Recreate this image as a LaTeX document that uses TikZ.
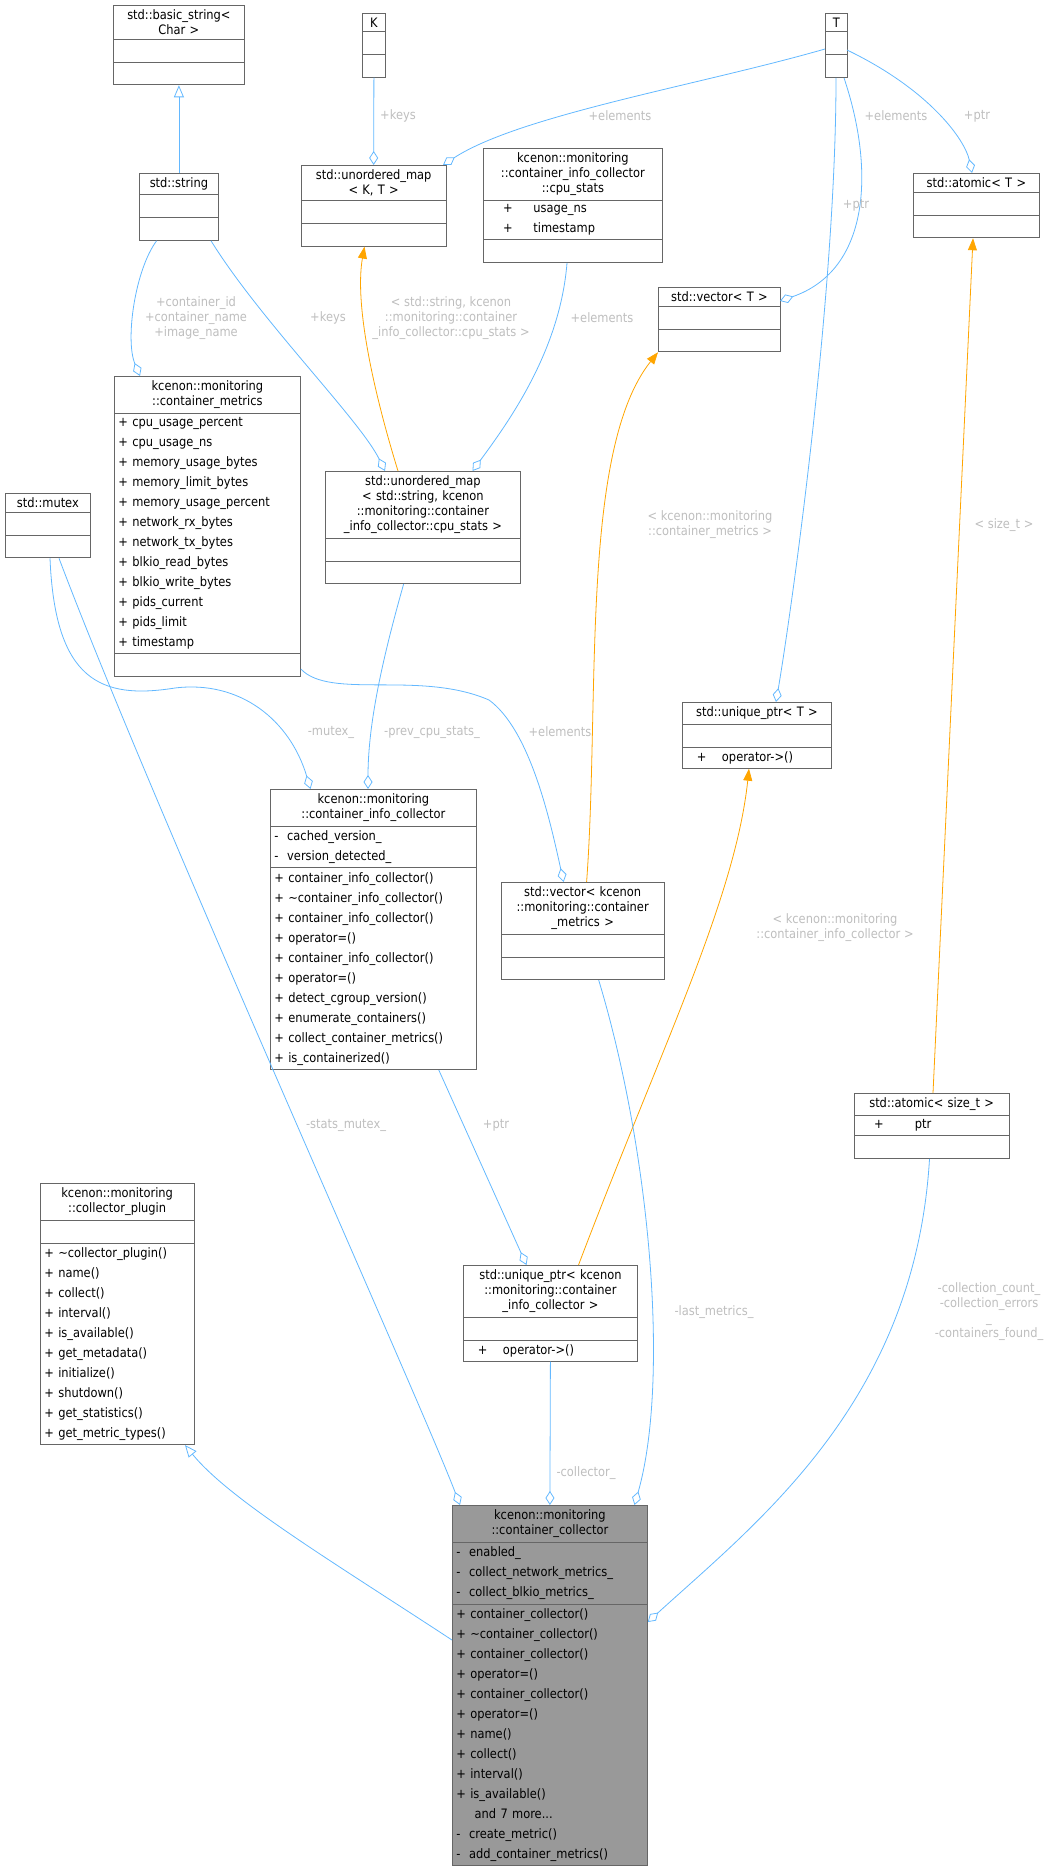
\documentclass[tikz,border=0pt]{standalone}
\usepackage{fontspec}
\setmainfont{DejaVu Sans}[FakeStretch=0.88]
\usepackage{tikz}
\usetikzlibrary{shapes.multipart,arrows.meta,calc,positioning}
\definecolor{edgeblue}{HTML}{63B8FF}
\definecolor{edgeorange}{HTML}{FFA500}
\definecolor{boxgray}{HTML}{666666}
\definecolor{mainfill}{HTML}{999999}
\definecolor{lblgray}{HTML}{BEBEBE}
\newcommand{\memfont}{\fontsize{6.5}{10}\selectfont}
\newcommand{\ttlfont}{\fontsize{6.5}{7.5}\selectfont}
\newcommand{\ttl}[1]{{\centering\ttlfont #1\par}}
\newcommand{\nomem}{\rule{0pt}{7pt}}
\tikzset{
  cls/.style={rectangle split, rectangle split parts=3, draw=boxgray, fill=white,
    anchor=north west, inner xsep=2pt, inner ysep=2pt, font=\memfont, align=left},
  mainc/.style={cls, fill=mainfill},
  dep/.style={draw=edgeblue, -{Diamond[open,length=7pt,width=4.5pt]}},
  isa/.style={draw=edgeblue, -{Triangle[open,length=6pt,width=5pt]}},
  tpl/.style={draw=edgeorange, -{Triangle[length=6pt,width=4.5pt]}},
  lbl/.style={text=lblgray, font=\ttlfont, align=center, inner sep=0pt}
}
\begin{document}
\begin{tikzpicture}[x=0.5pt,y=-0.5pt]
\useasboundingbox (0,0) rectangle (1053,1871);

% classes
\node[cls, text width=61.5pt] (bstr) at (113,5) {\ttl{std::basic\_string<\\Char >}\nodepart{two}\nomem\nodepart{three}\nomem};
\node[cls, text width=7.5pt] (K) at (362,13) {\ttl{K}\nodepart{two}\nomem\nodepart{three}\nomem};
\node[cls, text width=7pt] (T) at (825,13) {\ttl{T}\nodepart{two}\nomem\nodepart{three}\nomem};
\node[cls, text width=35.5pt] (str) at (139,173) {\ttl{std::string}\nodepart{two}\nomem\nodepart{three}\nomem};
\node[cls, text width=68.25pt] (umapKT) at (301,165) {\ttl{std::unordered\_map\\< K, T >}\nodepart{two}\nomem\nodepart{three}\nomem};
\node[cls, text width=85.5pt] (cpustats) at (483,148) {\ttl{kcenon::monitoring\\::container\_info\_collector\\::cpu\_stats}
  \nodepart{two}\hspace{1.2em}+\hspace{1.6em}usage\_ns\\\hspace{1.2em}+\hspace{1.6em}timestamp\nodepart{three}\nomem};
\node[cls, text width=59pt] (atomT) at (913,173) {\ttl{std::atomic< T >}\nodepart{two}\nomem\nodepart{three}\nomem};
\node[cls, text width=57pt] (vecT) at (658,287) {\ttl{std::vector< T >}\nodepart{two}\nomem\nodepart{three}\nomem};
\node[cls, text width=89pt] (cm) at (114,376) {\ttl{kcenon::monitoring\\::container\_metrics}
  \nodepart{two}+~cpu\_usage\_percent\\+~cpu\_usage\_ns\\+~memory\_usage\_bytes\\+~memory\_limit\_bytes\\+~memory\_usage\_percent\\+~network\_rx\_bytes\\+~network\_tx\_bytes\\+~blkio\_read\_bytes\\+~blkio\_write\_bytes\\+~pids\_current\\+~pids\_limit\\+~timestamp
  \nodepart{three}\nomem};
\node[cls, text width=38.5pt] (mutex) at (5,493) {\ttl{std::mutex}\nodepart{two}\nomem\nodepart{three}\nomem};
\node[cls, text width=93.5pt] (umap2) at (325,471) {\ttl{std::unordered\_map\\< std::string, kcenon\\::monitoring::container\\\_info\_collector::cpu\_stats >}\nodepart{two}\nomem\nodepart{three}\nomem};
\node[cls, text width=70.5pt] (uptrT) at (682,702) {\ttl{std::unique\_ptr< T >}\nodepart{two}\nomem\nodepart{three}\hspace{0.8em}+\hspace{1.2em}operator->()};
\node[cls, text width=99pt] (cic) at (270,789) {\ttl{kcenon::monitoring\\::container\_info\_collector}
  \nodepart{two}-~~cached\_version\_\\-~~version\_detected\_
  \nodepart{three}+~container\_info\_collector()\\+~\textasciitilde container\_info\_collector()\\+~container\_info\_collector()\\+~operator=()\\+~container\_info\_collector()\\+~operator=()\\+~detect\_cgroup\_version()\\+~enumerate\_containers()\\+~collect\_container\_metrics()\\+~is\_containerized()};
\node[cls, text width=77.25pt] (veccm) at (501,882) {\ttl{std::vector< kcenon\\::monitoring::container\\\_metrics >}\nodepart{two}\nomem\nodepart{three}\nomem};
\node[cls, text width=73.25pt] (atomsz) at (854,1093) {\ttl{std::atomic< size\_t >}\nodepart{two}\hspace{1.2em}+\hspace{2.4em}ptr\nodepart{three}\nomem};
\node[cls, text width=72.75pt] (plugin) at (40,1183) {\ttl{kcenon::monitoring\\::collector\_plugin}\nodepart{two}\nomem
  \nodepart{three}+~\textasciitilde collector\_plugin()\\+~name()\\+~collect()\\+~interval()\\+~is\_available()\\+~get\_metadata()\\+~initialize()\\+~shutdown()\\+~get\_statistics()\\+~get\_metric\_types()};
\node[cls, text width=83pt] (uptrcic) at (463,1265) {\ttl{std::unique\_ptr< kcenon\\::monitoring::container\\\_info\_collector >}\nodepart{two}\nomem\nodepart{three}\hspace{0.8em}+\hspace{1.2em}operator->()};
\node[mainc, text width=93.5pt] (cc) at (452,1505) {\ttl{kcenon::monitoring\\::container\_collector}
  \nodepart{two}-~~enabled\_\\-~~collect\_network\_metrics\_\\-~~collect\_blkio\_metrics\_
  \nodepart{three}+~container\_collector()\\+~\textasciitilde container\_collector()\\+~container\_collector()\\+~operator=()\\+~container\_collector()\\+~operator=()\\+~name()\\+~collect()\\+~interval()\\+~is\_available()\\\phantom{+}~~and 7 more...\\-~~create\_metric()\\-~~add\_container\_metrics()};

% connectors
\draw[isa] (str.north) -- (bstr.south);
\draw[dep] (K.south) -- (umapKT.north);
\draw[dep] ($(T.north west)+(0,36)$) .. controls (700,85) and (520,115) .. ($(umapKT.north west)+(142,0)$);
\draw[dep] ($(T.north west)+(22,37)$) .. controls (930,90) and (965,140) .. ($(atomT.north west)+(59,0)$);
\draw[dep] ($(T.north west)+(19,65)$) .. controls (875,170) and (870,270) .. ($(vecT.north west)+(122,14)$);
\draw[dep] ($(T.north west)+(11,65)$) .. controls (836,300) and (790,620) .. ($(uptrT.north west)+(94,0)$);
\draw[dep] ($(str.south west)+(17.6,0)$) .. controls (135,270) and (125,340) .. ($(cm.north west)+(26,0)$);
\draw[dep] ($(str.south west)+(72,0)$) .. controls (260,320) and (360,420) .. ($(umap2.north west)+(60,0)$);
\draw[tpl] ($(umap2.north west)+(73,0)$) .. controls (370,380) and (355,300) .. ($(umapKT.south west)+(63.5,0)$);
\draw[dep] ($(cpustats.south west)+(84,0)$) .. controls (560,350) and (510,420) .. ($(umap2.north west)+(147.5,0)$);
\draw[tpl] ($(veccm.north west)+(85.6,0)$) .. controls (600,700) and (580,450) .. (vecT.south west);
\draw[tpl] ($(atomsz.north west)+(79,0)$) -- ($(atomT.south west)+(60,0)$);
\draw[tpl] ($(uptrcic.north west)+(115.5,0)$) .. controls (660,1050) and (735,900) .. ($(uptrT.south west)+(67,0)$);
\draw[dep] ($(mutex.south west)+(45,0)$) .. controls (55,680) and (100,700) .. (175,688) .. controls (240,680) and (290,720) .. ($(cic.north west)+(40.5,0)$);
\draw[dep] ($(mutex.south west)+(54,0)$) .. controls (150,800) and (420,1400) .. ($(cc.north west)+(8,0)$);
\draw[dep] ($(cm.south east)+(0,-8)$) .. controls (330,700) and (420,670) .. (489,700) .. controls (530,730) and (550,820) .. ($(veccm.north west)+(62.6,0)$);
\draw[dep] ($(umap2.south west)+(78.6,0)$) .. controls (385,650) and (368,720) .. ($(cic.north west)+(98,0)$);
\draw[dep] ($(cic.south west)+(168.8,0)$) -- ($(uptrcic.north west)+(63.5,0)$);
\draw[dep] (uptrcic.south) -- (cc.north);
\draw[dep] ($(veccm.south west)+(97.7,0)$) .. controls (650,1150) and (670,1380) .. ($(cc.north west)+(182.5,0)$);
\draw[dep] ($(atomsz.south west)+(75.5,0)$) .. controls (915,1400) and (760,1520) .. ($(cc.north east)+(0,117)$);
\draw[isa] ($(cc.north west)+(0,135)$) .. controls (330,1560) and (230,1500) .. ($(plugin.south west)+(145,0)$);

% connector labels
\node[lbl] (lkeysK) at (398,116) {+keys};
\node[lbl] (lelemUK) at (620,116) {+elements};
\node[lbl] (lelemV) at (896,116) {+elements};
\node[lbl] (lptrA) at (977,116) {+ptr};
\node[lbl] (lptrU) at (856,205) {+ptr};
\node[lbl] (lstr) at (196,318) {+container\_id\\+container\_name\\+image\_name};
\node[lbl] (lkeys2) at (328,318) {+keys};
\node[lbl] (ltplU) at (451,318) {< std::string, kcenon\\::monitoring::container\\\_info\_collector::cpu\_stats >};
\node[lbl] (lelem2) at (602,318) {+elements};
\node[lbl] (ltplV) at (710,525) {< kcenon::monitoring\\::container\_metrics >};
\node[lbl] (ltplA) at (1004,525) {< size\_t >};
\node[lbl] (lmutex) at (331,732) {-mutex\_};
\node[lbl] (lprev) at (432,732) {-prev\_cpu\_stats\_};
\node[lbl] (lelem3) at (560,732) {+elements};
\node[lbl] (ltplP) at (835,928) {< kcenon::monitoring\\::container\_info\_collector >};
\node[lbl] (lstats) at (346,1125) {-stats\_mutex\_};
\node[lbl] (lptr2) at (496,1125) {+ptr};
\node[lbl] (lcount) at (989,1312) {-collection\_count\_\\-collection\_errors\\\_\\-containers\_found\_};
\node[lbl] (llast) at (714,1312) {-last\_metrics\_};
\node[lbl] (lcoll) at (586,1473) {-collector\_};
\end{tikzpicture}
\end{document}
